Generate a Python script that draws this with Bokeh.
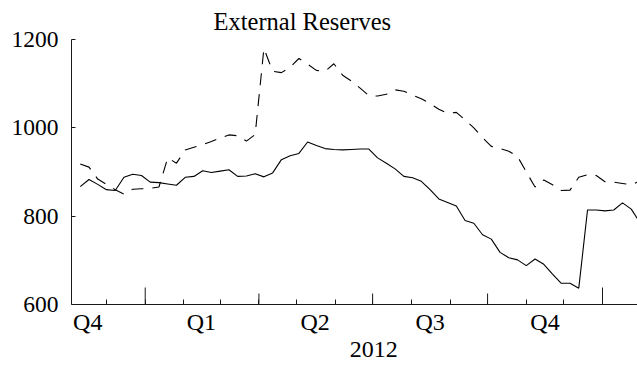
import pandas as pd
from bokeh.plotting import figure
from bokeh.models import Range1d, FixedTicker, LinearAxis, Title
from bokeh.embed import file_html
from bokeh.resources import INLINE

# Weekly observations, first one on this date
first_week = "2011-11-10"

# External reserves, two weekly series
reserves_solid = [
    867, 883, 872, 860, 858, 888, 895, 892, 877, 876,
    873, 870, 888, 890, 903, 899, 902, 905, 890, 891,
    896, 889, 898, 928, 937, 942, 968, 960, 953, 951,
    950, 951, 952, 952, 932, 920, 907, 890, 887, 879,
    860, 839, 831, 823, 790, 784, 758, 748, 718, 706,
    701, 688, 703, 691, 669, 648, 648, 637, 814, 814,
    812, 814, 830, 816, 785,
]
reserves_dashed = [
    918, 911, 884, 872, 860, 850, 861, 862, 863, 866,
    932, 920, 950, 956, 962, 969, 977, 984, 982, 970,
    985, 1180, 1128, 1125, 1137, 1157, 1144, 1130, 1128, 1145,
    1119, 1106, 1090, 1073, 1072, 1076, 1086, 1083, 1074, 1066,
    1055, 1042, 1033, 1035, 1018, 1000, 978, 958, 953, 947,
    935, 900, 866, 882, 871, 858, 859, 888, 894, 892,
    878, 877, 874, 871, 880,
]

# Axis annotations
y_ticks = [600, 800, 1000, 1200]
quarter_labels = ["Q4", "Q1", "Q2", "Q3", "Q4"]
quarter_starts = ["2011-10-01", "2012-01-01", "2012-04-01",
                  "2012-07-01", "2012-10-01", "2013-01-01"]
year_label = "2012"
view_start, view_end = "2011-11-03", "2013-01-29"

FONT = "Liberation Serif"
INK = "#1a1a1a"

origin = pd.Timestamp("2012-01-01")


def day(d):
    return int((pd.Timestamp(d) - origin).days)


weeks = pd.date_range(first_week, periods=len(reserves_solid), freq="7D")
x = [day(w) for w in weeks]

x0, x1 = day(view_start), day(view_end)
y0, y1 = y_ticks[0], y_ticks[-1]

W, H = 637, 368
LEFT, TOP, BOTTOM = 71, 39, 64
frame_h = H - TOP - BOTTOM

p = figure(
    width=W, height=H,
    x_range=Range1d(x0, x1), y_range=Range1d(y0, y1),
    x_axis_location=None,
    output_backend="svg", toolbar_location=None,
    min_border_left=LEFT, min_border_right=0,
    min_border_top=TOP, min_border_bottom=BOTTOM,
)
p.outline_line_color = None
p.grid.visible = False
p.background_fill_color = "white"
p.border_fill_color = "white"

p.add_layout(Title(text="External Reserves", align="left", offset=142,
                   text_font=FONT, text_font_size="24.5px",
                   text_font_style="normal", text_color="black"), "above")

# y axis
ya = p.yaxis[0]
ya.ticker = FixedTicker(ticks=y_ticks)
ya.axis_line_color = INK
ya.major_tick_line_color = INK
ya.major_tick_in = 4
ya.major_tick_out = 0
ya.minor_tick_line_color = None
ya.major_label_standoff = 13
ya.major_label_text_font = FONT
ya.major_label_text_font_size = "23.5px"
ya.major_label_text_color = "black"

# x axis: quarter names centred in each quarter, month ticks
q_days = [day(d) for d in quarter_starts]
q_mid = [(a + b) // 2 for a, b in zip(q_days[:-1], q_days[1:])]
months = [day(m) for m in pd.date_range(quarter_starts[0], quarter_starts[-1], freq="MS")]
months = [m for m in months if x0 < m < x1]

xa = LinearAxis(
    ticker=FixedTicker(ticks=q_mid, minor_ticks=months),
    major_label_overrides={m: lab for m, lab in zip(q_mid, quarter_labels)},
    axis_line_color=INK,
    major_tick_line_color=None, major_tick_in=0, major_tick_out=0,
    minor_tick_line_color=INK, minor_tick_in=5, minor_tick_out=0,
    major_label_standoff=4,
    major_label_text_font=FONT, major_label_text_font_size="24px",
    major_label_text_color="black",
)
p.add_layout(xa, "below")

# year name centred under its year
year_mid = (q_days[1] + q_days[-1]) // 2
xy = LinearAxis(
    ticker=FixedTicker(ticks=[year_mid]),
    major_label_overrides={year_mid: year_label},
    axis_line_color=None,
    major_tick_line_color=None, major_tick_in=0, major_tick_out=0,
    minor_tick_line_color=None,
    major_label_standoff=4,
    major_label_text_font=FONT, major_label_text_font_size="24px",
    major_label_text_color="black",
)
p.add_layout(xy, "below")

# taller ticks at quarter boundaries, tallest at year boundaries
units_per_px = (y1 - y0) / frame_h
bx = [d for d in q_days if x0 < d < x1]
blen = [(17 if (origin + pd.Timedelta(days=d)).month == 1 else 11) * units_per_px
        for d in bx]
p.segment(x0=bx, y0=[y0] * len(bx), x1=bx, y1=[y0 + L for L in blen],
          line_color=INK, line_width=1)

# series
p.line(x, reserves_solid, line_color="black", line_width=1.1)
p.line(x, reserves_dashed, line_color="black", line_width=1.1, line_dash="12 9")

open("out.html", "w").write(file_html(p, INLINE))
